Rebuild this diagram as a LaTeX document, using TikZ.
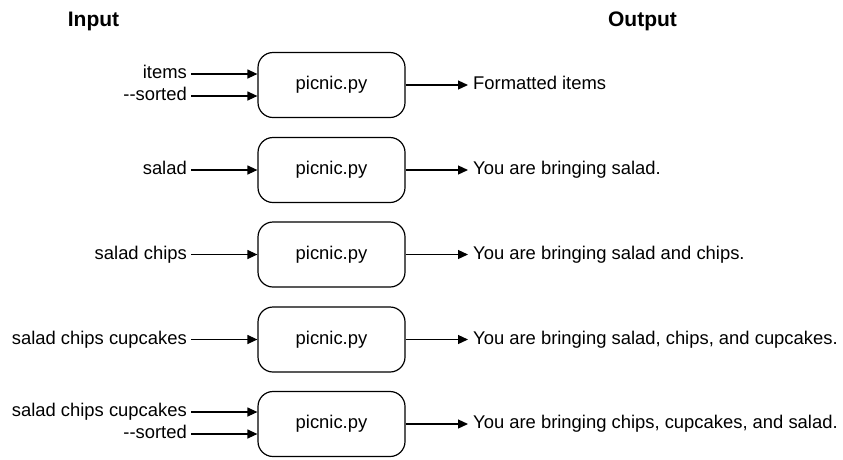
\documentclass[tikz,border=0pt]{standalone}
\usepackage{fontspec}
\setmainfont{Liberation Sans}
\usetikzlibrary{arrows.meta}

\begin{document}
\begin{tikzpicture}[x=1pt,y=-1pt,
	prog/.style={draw,line width=1.2pt,rounded corners=15pt,minimum width=147pt,minimum height=65pt,inner sep=0pt,text height=9.5pt,text depth=0pt,font=\fontsize{18.4}{22}\selectfont},
	inlbl/.style={anchor=east,inner xsep=4pt,inner ysep=0pt,text height=9.5pt,text depth=0pt,font=\fontsize{18.4}{22}\selectfont},
	outlbl/.style={anchor=west,inner xsep=5pt,inner ysep=0pt,text height=9.5pt,text depth=0pt,font=\fontsize{18.4}{22}\selectfont},
	head/.style={anchor=base,inner sep=0pt,font=\bfseries\fontsize{21}{25}\selectfont},
	arr/.style={line width=1.2pt,-{Triangle[length=10pt,width=9pt]}}]
	\useasboundingbox (0,0) rectangle (843,459);
	\node [head] (hin) at (93.5,26) {Input};
	\node [head] (hout) at (642.5,26) {Output};
	% row 1
	\node [prog] (p1) at (331.5,85) {picnic.py};
	\node [inlbl] (a1) at (191,74) {items};
	\node [inlbl] (b1) at (191,96) {\mbox{-}\mbox{-}sorted};
	\node [outlbl] (o1) at (468,85) {Formatted items};
	\draw [arr] (a1) -- (a1 -| p1.west);
	\draw [arr] (b1) -- (b1 -| p1.west);
	\draw [arr] (p1) -- (o1);
	% row 2
	\node [prog] (p2) at (331.5,170) {picnic.py};
	\node [inlbl] (a2) at (191,170) {salad};
	\node [outlbl] (o2) at (468,170) {You are bringing salad.};
	\draw [arr] (a2) -- (p2);
	\draw [arr] (p2) -- (o2);
	% row 3
	\node [prog] (p3) at (331.5,254.5) {picnic.py};
	\node [inlbl] (a3) at (191,254.5) {salad chips};
	\node [outlbl] (o3) at (468,254.5) {You are bringing salad and chips.};
	\draw [arr] (a3) -- (p3);
	\draw [arr] (p3) -- (o3);
	% row 4
	\node [prog] (p4) at (331.5,339.5) {picnic.py};
	\node [inlbl] (a4) at (191,339.5) {salad chips cupcakes};
	\node [outlbl] (o4) at (468,339.5) {You are bringing salad, chips, and cupcakes.};
	\draw [arr] (a4) -- (p4);
	\draw [arr] (p4) -- (o4);
	% row 5
	\node [prog] (p5) at (331.5,424) {picnic.py};
	\node [inlbl] (a5) at (191,412) {salad chips cupcakes};
	\node [inlbl] (b5) at (191,434) {\mbox{-}\mbox{-}sorted};
	\node [outlbl] (o5) at (468,424) {You are bringing chips, cupcakes, and salad.};
	\draw [arr] (a5) -- (a5 -| p5.west);
	\draw [arr] (b5) -- (b5 -| p5.west);
	\draw [arr] (p5) -- (o5);
\end{tikzpicture}
\end{document}
